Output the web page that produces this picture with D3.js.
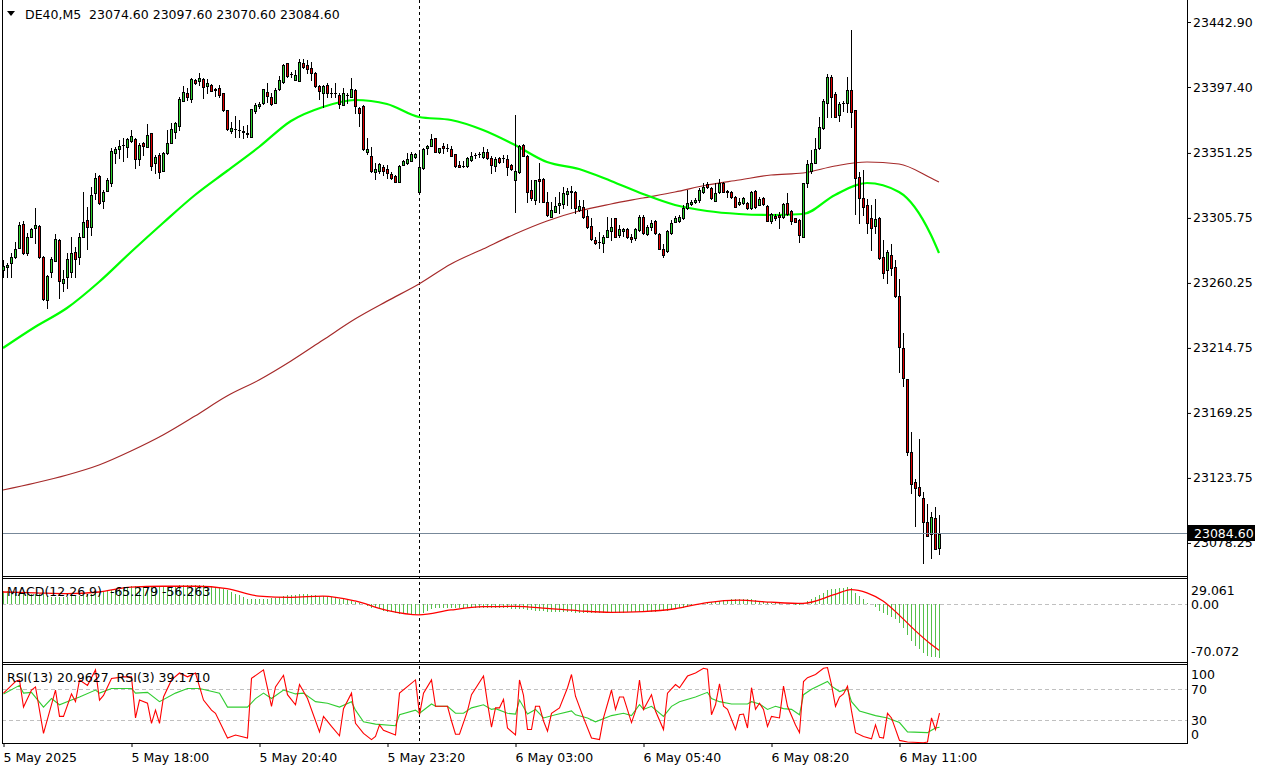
<!DOCTYPE html>
<html><head><meta charset="utf-8">
<script src="https://cdn.jsdelivr.net/npm/d3@7"></script>
<style>
body{margin:0;background:#fff}
svg{display:block}
text{font-family:"DejaVu Sans",sans-serif;font-size:12.5px;fill:#000;white-space:pre}
</style>
</head><body>
<svg id="c" width="1267" height="771"></svg>
<script>
// ---------------- DATA ----------------
const headerText = "DE40,M5  23074.60 23097.60 23070.60 23084.60";
const macdTitle = "MACD(12,26,9)  -65.279 -56.263";
const rsiTitle = "RSI(13) 20.9627  RSI(3) 39.1710";
const lastPrice = 23084.60;
const markerIndex = 104;

const open = [23269.3,23271.2,23274.0,23278.2,23284.9,23301.3,23281.4,23292.6,23298.5,23300.1,23278.6,23248.3,23267.7,23275.8,23290.3,23260.4,23264.2,23268.1,23281.7,23278.2,
23292.6,23304.1,23299.2,23323.0,23335.1,23317.8,23324.8,23330.4,23351.4,23353.8,23356.6,23355.6,23359.8,23360.8,23346.8,23358.0,23355.6,23365.0,23344.4,23349.8,
23338.8,23351.0,23358.4,23366.1,23370.3,23387.8,23393.4,23388.8,23402.3,23401.8,23402.8,23398.1,23398.8,23395.8,23396.5,23393.0,23381.3,23366.8,23368.0,23367.3,
23366.1,23364.5,23362.6,23380.6,23384.1,23386.0,23394.1,23390.6,23386.4,23395.8,23400.7,23414.0,23406.5,23402.3,23401.8,23414.0,23412.8,23410.5,23407.4,23398.1,
23393.0,23398.8,23393.5,23393.3,23391.8,23384.8,23391.7,23390.6,23395.3,23382.5,23384.1,23351.9,23349.1,23337.7,23338.8,23341.7,23340.0,23336.5,23335.3,23331.1,
23342.8,23344.0,23345.6,23348.6,23323.7,23340.5,23354.5,23356.3,23361.5,23351.7,23356.1,23354.4,23354.0,23350.3,23342.8,23342.4,23342.3,23346.3,23349.7,23350.2,
23348.6,23352.1,23347.5,23342.3,23347.5,23347.4,23347.0,23342.8,23332.3,23337.7,23356.8,23349.3,23325.3,23318.3,23333.0,23333.0,23317.1,23306.6,23310.1,23314.8,
23315.3,23322.3,23324.2,23324.1,23311.3,23313.2,23307.1,23300.1,23290.3,23289.0,23288.0,23292.6,23296.8,23305.5,23293.8,23296.8,23297.8,23292.6,23291.5,23297.3,
23306.6,23294.5,23299.6,23303.8,23294.5,23283.8,23282.6,23295.0,23303.1,23303.8,23305.5,23312.5,23315.5,23317.1,23318.3,23324.1,23329.5,23326.5,23317.8,23324.1,
23330.4,23324.1,23324.1,23320.6,23315.5,23316.0,23316.4,23312.5,23324.8,23314.8,23319.5,23314.1,23303.8,23307.1,23307.8,23306.2,23316.4,23310.8,23305.5,23304.3,
23292.6,23330.4,23338.8,23344.4,23354.5,23368.5,23386.0,23404.6,23392.5,23377.8,23386.3,23386.4,23395.3,23381.3,23334.6,23319.5,23314.8,23305.5,23300.1,23305.5,
23278.2,23269.3,23279.8,23271.2,23251.1,23214.5,23192.8,23141.7,23120.7,23117.6,23109.5,23092.7,23084.3,23095.5,23074.6];
const high = [23276.5,23274.4,23281.4,23288.9,23302.7,23303.6,23295.0,23298.5,23312.9,23300.6,23279.0,23265.8,23278.6,23294.5,23290.8,23269.3,23281.4,23292.2,23285.6,23295.0,
23323.7,23313.6,23327.6,23337.0,23335.8,23325.3,23333.7,23354.5,23355.6,23360.3,23361.5,23361.5,23367.3,23361.5,23358.4,23359.1,23371.3,23365.3,23349.8,23351.0,
23351.9,23367.3,23372.0,23372.7,23390.2,23398.3,23396.5,23403.5,23403.0,23407.4,23403.5,23402.8,23399.5,23396.5,23398.8,23393.5,23381.6,23373.1,23377.1,23374.3,
23370.1,23370.8,23382.3,23386.4,23387.1,23396.3,23400.0,23393.0,23396.5,23405.1,23413.2,23414.5,23408.1,23409.3,23416.8,23416.8,23416.3,23414.9,23407.8,23398.8,
23398.8,23400.0,23396.5,23400.4,23393.0,23396.5,23393.4,23403.5,23395.8,23383.6,23384.5,23361.5,23355.6,23344.0,23344.0,23342.8,23342.8,23338.1,23335.8,23342.6,
23346.3,23351.0,23352.1,23351.2,23352.1,23354.7,23356.8,23364.3,23362.0,23355.0,23358.0,23357.3,23356.3,23350.6,23345.6,23345.6,23348.6,23352.1,23351.0,23352.1,
23355.6,23354.0,23349.3,23348.6,23348.6,23349.8,23349.8,23343.3,23377.8,23356.8,23357.3,23349.8,23332.3,23332.6,23344.0,23333.5,23323.9,23317.1,23320.6,23323.7,
23327.6,23326.9,23328.3,23324.6,23318.3,23318.3,23311.3,23305.5,23292.2,23296.1,23293.8,23306.6,23305.5,23305.9,23300.8,23298.7,23298.5,23294.5,23298.5,23307.8,
23307.8,23300.8,23304.3,23304.3,23295.0,23287.5,23297.0,23304.3,23307.1,23307.8,23314.8,23325.3,23318.3,23319.5,23326.5,23330.0,23331.1,23327.6,23330.0,23332.8,
23330.9,23325.3,23324.8,23321.1,23319.5,23320.4,23316.9,23324.8,23325.3,23320.6,23320.4,23314.8,23309.0,23308.5,23310.1,23316.2,23323.0,23311.3,23305.7,23304.8,
23330.5,23346.3,23353.3,23361.5,23376.6,23388.8,23406.5,23405.8,23394.1,23387.1,23387.8,23404.6,23437.3,23381.6,23338.1,23339.3,23318.8,23314.8,23318.8,23306.4,
23290.3,23283.3,23287.5,23276.3,23262.8,23225.0,23193.0,23155.7,23123.0,23150.8,23114.1,23105.3,23100.1,23103.6,23097.6];
const low = [23264.6,23264.4,23264.4,23277.8,23284.5,23280.5,23279.8,23292.2,23288.4,23277.5,23248.3,23242.5,23264.4,23275.5,23249.9,23254.8,23256.9,23264.6,23264.6,23273.5,
23292.3,23283.8,23293.8,23318.8,23315.7,23312.9,23324.5,23328.1,23344.4,23347.5,23345.8,23348.6,23359.1,23340.5,23342.8,23349.8,23355.3,23339.3,23337.0,23333.5,
23338.3,23350.7,23358.0,23361.5,23367.3,23387.5,23388.3,23387.1,23399.8,23398.8,23389.5,23393.4,23394.6,23391.1,23390.6,23380.8,23367.3,23365.0,23362.2,23362.2,
23361.5,23362.2,23362.2,23379.4,23382.5,23385.5,23387.1,23384.8,23386.0,23395.3,23400.0,23404.6,23404.6,23402.0,23401.5,23410.5,23407.4,23402.3,23397.6,23388.8,
23383.6,23390.6,23390.6,23390.6,23382.5,23384.5,23386.0,23390.3,23379.0,23370.1,23353.3,23350.5,23338.1,23332.8,23337.4,23335.8,23333.9,23333.0,23330.6,23330.6,
23342.6,23343.7,23345.3,23347.7,23323.4,23339.8,23350.3,23356.0,23351.6,23351.4,23351.0,23352.6,23349.0,23341.6,23341.3,23341.6,23341.6,23345.6,23347.5,23348.6,
23347.5,23347.0,23337.0,23338.6,23344.0,23345.1,23335.8,23339.5,23310.1,23337.2,23349.0,23317.1,23318.3,23315.3,23317.1,23316.6,23307.4,23306.2,23309.8,23309.0,
23312.5,23314.8,23312.5,23309.0,23310.8,23305.9,23298.5,23290.3,23287.5,23284.5,23282.1,23292.2,23290.3,23292.2,23292.6,23293.1,23292.0,23289.1,23290.3,23296.8,
23294.5,23293.5,23297.3,23294.5,23283.7,23278.2,23282.2,23294.8,23302.9,23303.1,23304.8,23311.8,23314.8,23316.4,23317.1,23323.4,23326.5,23318.8,23317.5,23323.4,
23323.9,23320.6,23319.5,23313.1,23314.8,23315.5,23312.0,23312.2,23312.5,23314.5,23314.8,23303.6,23302.4,23304.3,23298.5,23305.7,23307.8,23301.5,23302.6,23289.1,
23292.2,23327.6,23337.4,23344.0,23353.8,23367.8,23376.6,23376.6,23376.2,23373.8,23380.8,23380.1,23369.2,23308.5,23302.0,23307.8,23295.0,23283.3,23295.0,23277.0,
23263.5,23260.2,23265.8,23250.6,23198.1,23188.1,23139.8,23113.4,23090.3,23111.1,23064.4,23083.0,23067.5,23073.8,23070.6];
const close = [23272.1,23272.8,23278.6,23283.8,23300.8,23281.0,23292.2,23297.8,23300.8,23278.2,23249.0,23265.1,23277.0,23290.8,23261.8,23263.0,23276.8,23281.0,23276.8,23292.2,
23302.7,23299.6,23321.8,23333.5,23316.4,23323.7,23332.3,23352.6,23353.8,23356.1,23356.8,23360.8,23363.3,23347.0,23356.8,23356.3,23363.6,23342.3,23348.6,23338.1,
23351.4,23358.0,23367.8,23372.0,23388.8,23393.7,23390.6,23402.8,23400.4,23403.5,23397.6,23400.4,23394.8,23395.6,23391.8,23381.3,23367.8,23368.5,23367.8,23367.1,
23366.3,23365.4,23381.8,23384.8,23385.3,23395.8,23391.1,23385.5,23395.3,23402.3,23412.8,23405.1,23406.3,23405.8,23414.7,23411.6,23410.0,23407.4,23398.1,23394.8,
23398.1,23393.4,23393.3,23393.5,23385.5,23393.4,23391.5,23395.8,23384.1,23379.0,23353.8,23353.8,23338.8,23340.2,23343.5,23338.9,23337.0,23333.9,23331.1,23342.1,
23345.6,23347.0,23350.3,23350.3,23341.2,23354.0,23356.1,23361.0,23352.1,23354.5,23354.5,23354.6,23349.3,23342.1,23341.6,23342.2,23347.9,23349.1,23349.9,23350.4,
23352.1,23347.5,23342.8,23347.0,23345.1,23347.6,23341.6,23340.0,23338.6,23356.3,23349.3,23324.1,23319.9,23332.3,23331.6,23317.1,23307.8,23311.3,23314.3,23316.4,
23323.0,23324.6,23324.8,23312.5,23314.1,23306.2,23299.2,23290.8,23288.4,23289.2,23292.2,23297.3,23299.2,23292.6,23297.8,23297.8,23292.2,23290.8,23297.8,23306.6,
23295.0,23299.6,23302.0,23295.0,23284.2,23279.8,23296.6,23302.4,23305.5,23306.6,23312.5,23316.4,23317.1,23318.3,23325.3,23327.6,23327.2,23319.5,23323.4,23330.4,
23324.1,23324.3,23320.6,23313.6,23317.1,23319.5,23312.5,23324.1,23313.2,23318.8,23315.5,23303.8,23308.5,23305.5,23306.2,23315.5,23308.5,23303.8,23303.1,23293.8,
23330.0,23343.5,23344.0,23353.8,23369.2,23387.8,23404.2,23390.2,23376.6,23385.5,23386.5,23395.3,23380.1,23333.5,23319.5,23313.6,23302.0,23298.5,23304.8,23277.5,
23267.0,23281.7,23270.5,23251.3,23215.2,23193.5,23142.1,23119.3,23116.5,23111.8,23093.1,23083.3,23096.6,23074.0,23084.6];

const timeLabels = ["5 May 2025","5 May 18:00","5 May 20:40","5 May 23:20","6 May 03:00","6 May 05:40","6 May 08:20","6 May 11:00"];
const timeLabelIndex = [0,32,64,96,128,160,192,224];
const priceTicks = [23442.90,23397.40,23351.25,23305.75,23260.25,23214.75,23169.25,23123.75,23078.25];

const maIndex = [0,8,16,24,32,40,48,56,64,72,80,88,96,104,112,120,128,136,144,152,160,168,176,184,192,200,208,216,224,232,234];
const maFast = [23214.7,23229.4,23242.7,23260.9,23281.9,23302.2,23321.8,23338.6,23355.4,23373.6,23383.4,23388.3,23385.5,23376.4,23374.3,23367.3,23356.8,23344.9,23340.0,23331.6,23322.5,23314.8,23310.6,23308.5,23307.8,23308.5,23321.8,23330.2,23323.9,23293.8,23281.2];
const maSlow = [23115.3,23120.2,23125.8,23132.8,23142.6,23153.8,23167.1,23181.1,23192.3,23205.6,23220.3,23235.0,23247.5,23259.5,23273.5,23284.0,23294.5,23303.6,23310.6,23315.5,23319.7,23323.9,23328.8,23332.3,23335.8,23337.2,23342.1,23344.9,23343.5,23333.7,23330.9];

const macdMain = [16,16,15,15,15,14,14,13,13,13,12,10,
9,9,9,9,9,10,10,10,11,12,13,14,
15,16,17,18,19,20,21,21,22,22,22,22,
22,22,22,22,22,22,22,22,23,23,23,23,
23,23,23,22,22,21,20,19,17,15,13,11,
9,7,6,6,6,7,7,8,8,9,10,11,
11,11,12,12,12,11,11,10,10,9,9,8,
7,6,5,4,3,2,0,-2,-4,-5,-6,-8,
-9,-10,-11,-12,-12,-12,-12,-12,-13,-11,-8,-6,
-5,-4,-4,-4,-4,-4,-5,-5,-5,-5,-5,-5,
-5,-5,-5,-5,-5,-5,-5,-6,-6,-6,-6,-7,
-7,-8,-8,-8,-9,-9,-10,-10,-10,-10,-10,-11,
-11,-11,-11,-11,-11,-11,-11,-11,-11,-11,-11,-11,
-10,-10,-10,-10,-9,-9,-9,-9,-8,-8,-8,-7,
-6,-5,-4,-3,-2,-1,0,1,2,3,4,4,
5,5,6,6,6,7,6,6,5,4,3,3,
2,1,1,0,0,0,-1,-1,2,
4,6.1,9.3,11.4,13.4,17.5,18.7,18.7,19.5,20.3,21.1,19.5,13.4,10.5,6.1,2.0,0,-2.9,-8.2,-11,-13.1,-15.2,-18.3,-23.2,-28.6,-37.5,-44.5,-50.6,-54.6,-59.9,-62.8,-64.8,-64.8,-65.279];
const macdSignalIndex = [0,8,16,24,32,40,48,56,64,72,80,88,96,104,112,120,128,136,144,152,160,168,176,184,192,200,208,212,216,220,224,228,232,234];
const macdSignal = [15,14,13,15,21,22,22,19,10,8.5,10,4,-7.5,-13,-7,-3,-2.5,-5,-8,-10,-9,-5.5,2,5,2.5,1,12,18,14,4,-13,-32,-49,-56.263];
const macdTicks = [29.061,0,-70.072];

const rsi3 = [[0,65],[2,75],[3,80],[4,82],[5,47],[7,69],[8,73],[10,13],[13,69],[14,35],[15,35],[17,64],[18,54],[19,82],[21,75],[23,95],[24,56],[25,62],[27,84],[30,86],[32,86],[33,33],[34,56],[36,52],[37,26],[38,43],[39,26],[40,60],[42,82],[44,91],[46,86],[48,91],[50,56],[52,43],[53,39],[56,7],[58,11],[61,7],[62,84],[65,95],[67,48],[68,73],[70,88],[71,63],[73,50],[74,76],[76,58],[79,15],[80,35],[82,22],[84,10],[85,45],[87,65],[88,26],[90,13],[92,5],[93,9],[94,24],[95,17],[98,11],[99,65],[103,82],[104,37],[105,65],[107,82],[108,48],[111,48],[112,29],[113,12],[114,12],[116,42],[117,63],[120,87],[121,52],[122,21],[123,46],[124,46],[125,57],[126,20],[128,11],[129,82],[130,62],[131,18],[132,18],[133,48],[134,48],[135,29],[136,16],[137,39],[139,46],[141,72],[142,89],[143,61],[145,33],[147,7],[149,5],[150,33],[152,69],[153,44],[154,60],[155,60],[157,27],[158,42],[159,82],[160,44],[162,63],[163,42],[165,18],[166,65],[168,76],[169,72],[171,87],[173,91],[175,97],[176,96],[177,37],[178,50],[179,77],[180,48],[181,44],[183,18],[184,37],[185,38],[186,20],[187,72],[188,44],[189,52],[190,44],[191,22],[192,35],[194,33],[195,74],[196,48],[198,24],[199,14],[200,80],[201,85],[203,89],[205,97],[206,98],[207,76],[208,48],[209,60],[210,64],[211,74],[212,42],[213,14],[215,9],[217,6],[218,24],[219,8],[220,7],[221,39],[222,33],[224,4],[226,2],[230,1],[231,2],[232,33],[233,18],[234,39.171]];
const rsi13 = [[0,64],[4,75],[5,65],[7,66],[10,47],[12,58],[14,50],[17,56],[19,60],[23,69],[24,65],[27,71],[32,71],[33,65],[36,66],[39,54],[43,65],[46,71],[49,71],[54,65],[56,47],[61,47],[63,58],[65,65],[67,58],[70,69],[73,64],[75,65],[78,54],[81,52],[84,47],[87,54],[88,43],[90,28],[93,25],[98,23],[99,37],[103,43],[104,39],[107,51],[108,48],[111,48],[113,39],[115,39],[117,46],[120,50],[122,44],[123,45],[126,39],[128,38],[129,56],[131,38],[133,44],[135,33],[138,37],[142,42],[143,37],[146,33],[148,28],[152,36],[155,39],[157,36],[159,50],[160,44],[162,48],[165,35],[167,48],[169,54],[173,60],[176,66],[177,58],[179,54],[182,51],[186,51],[187,54],[189,51],[191,44],[193,48],[195,45],[197,44],[199,37],[200,63],[202,70],[206,80],[207,74],[209,67],[211,70],[212,54],[214,42],[218,36],[221,33],[224,27],[226,15],[231,14],[232,17],[233,20],[234,20.963]];
const rsiTicks = [100,70,30,0];
const rsiLevels = [70,30];

// ---------------- DRAW ----------------
const svg = d3.select("#c");
const n = close.length;
const X0 = 2, X1 = 1188;
const x = d3.scaleLinear().domain([0, n - 1]).range([3, 3 + 4 * (n - 1)]);
const y = d3.scaleLinear().domain([23055.8, 23455.5]).range([575, 4]);
const yM = d3.scaleLinear().domain([-70.072, 29.061]).range([661.5, 580.5]);
const yR = d3.scaleLinear().domain([0, 100]).range([743.5, 666]);

const C_UP = "#2ed12e", C_DN = "#e00000";

svg.append("rect").attr("width", 1267).attr("height", 771).attr("fill", "#fff");

// level lines
svg.append("line").attr("x1", X0).attr("x2", X1).attr("y1", Math.round(yM(0)) + 0.5).attr("y2", Math.round(yM(0)) + 0.5)
  .attr("stroke", "#c0c0c0").attr("stroke-dasharray", "4,3");
svg.selectAll(".rl").data(rsiLevels).join("line")
  .attr("x1", X0).attr("x2", X1)
  .attr("y1", d => Math.round(yR(d)) + 0.5).attr("y2", d => Math.round(yR(d)) + 0.5)
  .attr("stroke", "#c0c0c0").attr("stroke-dasharray", "4,3");

// marker dashed vertical
svg.append("line").attr("x1", Math.round(x(markerIndex)) + 0.5).attr("x2", Math.round(x(markerIndex)) + 0.5)
  .attr("y1", 0).attr("y2", 744).attr("stroke", "#000").attr("stroke-dasharray", "3,3");

// moving averages
const maLine = d3.line().x(d => x(d[0])).y(d => y(d[1])).curve(d3.curveMonotoneX);
svg.append("path").attr("d", maLine(maIndex.map((k, j) => [k, maSlow[j]])))
  .attr("fill", "none").attr("stroke", "#a52a2a").attr("stroke-width", 1.2);
svg.append("path").attr("d", maLine(maIndex.map((k, j) => [k, maFast[j]])))
  .attr("fill", "none").attr("stroke", "#00ff00").attr("stroke-width", 2.2);

// candles
const cg = svg.append("g");
for (let i = 0; i < n; i++) {
  const o = open[i], h = high[i], l = low[i], c = close[i];
  const cx = Math.round(x(i));
  const yh = Math.round(y(h)), yl = Math.round(y(l));
  cg.append("rect").attr("x", cx).attr("y", yh).attr("width", 1).attr("height", Math.max(1, yl - yh + 1)).attr("fill", "#000");
  const top = Math.round(y(Math.max(o, c))), bot = Math.round(y(Math.min(o, c)));
  const hh = Math.max(0, bot - top);
  cg.append("rect").attr("x", cx - 1).attr("y", top).attr("width", 3).attr("height", hh + 1).attr("fill", "#000");
  if (hh >= 2) {
    cg.append("rect").attr("x", cx).attr("y", top + 1).attr("width", 1).attr("height", hh - 1)
      .attr("fill", c >= o ? C_UP : C_DN);
  }
}

// current price line
const yLast = Math.round(y(lastPrice)) - 1;
svg.append("line").attr("x1", X0).attr("x2", X1).attr("y1", yLast + 0.5).attr("y2", yLast + 0.5).attr("stroke", "#778899");

// MACD histogram
svg.append("g").selectAll("line").data(macdMain).join("line")
  .attr("x1", (d, i) => Math.round(x(i)) + 0.5).attr("x2", (d, i) => Math.round(x(i)) + 0.5)
  .attr("y1", Math.round(yM(0))).attr("y2", d => Math.round(yM(d)))
  .attr("stroke", "#55c04a").attr("stroke-width", 1);
svg.append("path").attr("d", d3.line().x(d => x(d[0])).y(d => yM(d[1])).curve(d3.curveMonotoneX)(macdSignalIndex.map((k, j) => [k, macdSignal[j]])))
  .attr("fill", "none").attr("stroke", "#ff0000").attr("stroke-width", 1.3);

// RSI lines
const rLine = d3.line().x(d => x(d[0]) + 0.5).y(d => yR(d[1]));
svg.append("path").attr("d", rLine(rsi13)).attr("fill", "none").attr("stroke", "#32cd32").attr("stroke-width", 1.1);
svg.append("path").attr("d", rLine(rsi3)).attr("fill", "none").attr("stroke", "#ff0000").attr("stroke-width", 1.1);

// panel frames
const fr = svg.append("g").attr("stroke", "#000").attr("stroke-width", 1).attr("fill", "none");
fr.append("line").attr("x1", 2.5).attr("x2", 2.5).attr("y1", 0).attr("y2", 744);
fr.append("line").attr("x1", X1 - 0.5).attr("x2", X1 - 0.5).attr("y1", 0).attr("y2", 744);
[576.5, 578.5, 662.5, 664.5, 743.5].forEach(v => fr.append("line").attr("x1", 2).attr("x2", X1).attr("y1", v).attr("y2", v));

// price axis
const ay = svg.append("g").attr("transform", `translate(${X1 - 1},0)`)
  .call(d3.axisRight(y).tickValues(priceTicks).tickFormat(d => d.toFixed(2)).tickSize(4).tickPadding(2));
ay.select(".domain").remove();
ay.selectAll("text").style("font-family", "DejaVu Sans").style("font-size", "12.5px");

// MACD axis
const am = svg.append("g").attr("transform", `translate(${X1},0)`)
  .call(d3.axisRight(yM).tickValues(macdTicks).tickFormat(d => d === 0 ? "0.00" : d.toFixed(3)).tickSize(0).tickPadding(3));
am.select(".domain").remove();
am.selectAll("text").style("font-family", "DejaVu Sans").style("font-size", "12.5px")
  .attr("dy", d => d === macdTicks[0] ? "1.12em" : d === macdTicks[2] ? "-0.45em" : "0.32em");

// RSI axis
const ar = svg.append("g").attr("transform", `translate(${X1},0)`)
  .call(d3.axisRight(yR).tickValues(rsiTicks).tickFormat(d => String(d)).tickSize(0).tickPadding(3));
ar.select(".domain").remove();
ar.selectAll("text").style("font-family", "DejaVu Sans").style("font-size", "12.5px")
  .attr("dy", d => d === 100 ? "1.0em" : d === 0 ? "-0.38em" : "0.32em");

// time axis
const ax = svg.append("g").attr("transform", "translate(0,744)")
  .call(d3.axisBottom(x).tickValues(timeLabelIndex).tickFormat((d, k) => timeLabels[k]).tickSize(3).tickPadding(6));
ax.select(".domain").remove();
ax.selectAll("text").style("font-family", "DejaVu Sans").style("font-size", "12.5px").attr("text-anchor", "start").attr("x", 0);
ax.selectAll(".tick line").attr("transform", "translate(0.5,0)");

// last price box
svg.append("rect").attr("x", X1).attr("y", yLast - 8).attr("width", 67).attr("height", 16).attr("fill", "#000");
svg.append("text").attr("x", 1194).attr("y", yLast).attr("dy", "0.36em").style("fill", "#fff").text(lastPrice.toFixed(2));

// titles
svg.append("path").attr("d", "M7,11 L15,11 L11,16 Z").attr("fill", "#000");
svg.append("text").attr("x", 25).attr("y", 14).attr("dy", "0.36em").text(headerText);
svg.append("text").attr("x", 7).attr("y", 591).attr("dy", "0.36em").text(macdTitle);
svg.append("text").attr("x", 7).attr("y", 677).attr("dy", "0.36em").text(rsiTitle);
</script>
</body></html>
